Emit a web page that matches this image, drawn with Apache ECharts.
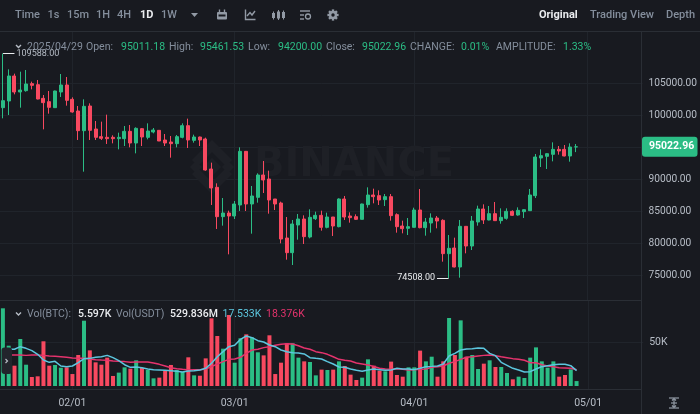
<!DOCTYPE html>
<html>
<head>
<meta charset="utf-8">
<title>BTC/USDT 1D</title>
<style>html,body{margin:0;padding:0;background:#181a20;overflow:hidden}#chart{width:700px;height:414px}</style>
<script src="https://cdn.jsdelivr.net/npm/echarts@6/dist/echarts.min.js"></script>
</head>
<body>
<div id="chart"></div>
<script>
// Daily sessions, with the empty days that run on to the right of the last candle.
const dates = [
'01/20','01/21','01/22','01/23','01/24','01/25','01/26','01/27','01/28','01/29','01/30','01/31',
'02/01','02/02','02/03','02/04','02/05','02/06','02/07','02/08','02/09','02/10','02/11','02/12','02/13','02/14','02/15','02/16','02/17','02/18','02/19','02/20','02/21','02/22','02/23','02/24','02/25','02/26','02/27','02/28',
'03/01','03/02','03/03','03/04','03/05','03/06','03/07','03/08','03/09','03/10','03/11','03/12','03/13','03/14','03/15','03/16','03/17','03/18','03/19','03/20','03/21','03/22','03/23','03/24','03/25','03/26','03/27','03/28','03/29','03/30','03/31',
'04/01','04/02','04/03','04/04','04/05','04/06','04/07','04/08','04/09','04/10','04/11','04/12','04/13','04/14','04/15','04/16','04/17','04/18','04/19','04/20','04/21','04/22','04/23','04/24','04/25','04/26','04/27','04/28','04/29','04/30',
'05/01','05/02','05/03','05/04','05/05','05/06','05/07','05/08','05/09','05/10'];

const opens = [101146,102188,106094,103594,103802,104896,104740,102604,102083,101146,103594,104688,102448,100625,97552,101406,97813,96615,96511,96511,96302,96302,97448,95625,97865,96511,97344,
97604,96094,95781,95521,96510,98333,96042,96562,96250,91562,88698,84114,84687,84219,85938,94323,86094,87135,90625,90000,86875,86250,80781,78490,82813,83750,
80938,83802,84323,82448,84062,82552,86875,84219,84115,83698,85989,87500,87396,86771,87240,84427,82656,82291,82448,85156,82396,83125,83906,83542,78333,
79219,76250,82604,79531,83281,85312,83594,84583,83490,83854,84948,84375,84896,85052,87396,93281,93542,93854,94635,94635,93594,95011.18];
const closes = [102240,106094,103594,103906,104844,104635,102500,101927,101198,103750,104688,102292,100469,97552,101354,97604,96511,96354,96302,96302,96511,97448,95625,97917,96563,97500,97656,
95937,95625,95521,96615,98333,96094,96562,96094,91406,88594,84114,84687,84219,86094,94323,86094,87344,90625,89844,86719,86094,80625,78490,82969,83750,80990,
84010,84323,82448,84062,82656,86875,84062,83958,83698,86094,87500,87240,86719,87240,84271,82552,82239,82552,85156,82396,83281,83906,83437,78333,79166,
76250,82604,79531,83438,85312,83594,84583,83490,84010,84948,84323,85104,85208,87500,93437,93646,93958,94635,94375,93594,94999,95022.96];
const lows = [99480,100000,103229,101146,103646,104011,102448,97761,100209,101094,102813,101459,100365,96094,91146,96094,96094,96094,95469,95573,94636,95156,94948,94011,95156,96198,97136,
95937,95156,93333,94948,96354,94844,95677,95156,91302,85938,82188,82708,78229,83750,85000,85000,81458,86302,87812,84583,85156,79948,77396,76562,80521,79844,
80729,83594,81927,82292,81094,82448,83594,83177,83594,83698,85521,86198,85937,85781,83490,81615,81510,81250,82448,82291,81146,81615,82292,77083,74508,
76198,74583,78385,78906,82708,82969,83542,83438,83021,83646,84219,84271,83906,85000,87031,91875,91562,92760,93802,93542,92708,94200];
const highs = [109588,107136,106459,106771,107032,105208,105469,103125,103750,103802,106406,105938,102761,101406,102448,101823,99063,98959,100052,96823,97240,98281,98438,98073,97969,98698,97969,
97656,97031,96719,96875,98698,99427,96927,96615,96458,92552,89323,87031,85052,86563,94948,94375,88906,90885,92812,91302,86875,86458,84062,83594,84531,84323,
85260,84896,85052,84739,84062,86979,87344,84792,84479,86146,88698,88489,88229,87656,87656,84635,83489,83906,85521,88437,83906,84635,84219,83698,81250,
80833,83594,82604,84219,85833,86042,85781,86406,85417,85417,85104,85573,85260,88438,93906,94635,94010,95729,95156,95312,95573,95461.53];

// Volume per session, in thousands of BTC.
const volumes = [88.3,45.8,23.1,53.4,24.2,10.2,11.0,50.8,23.1,23.9,20.8,21.2,13.6,35.2,74.2,40.5,26.9,24.2,32.2,11.4,15.2,21.2,19.7,29.2,20.5,18.2,8.7,9.5,17.4,23.9,18.2,15.9,32.6,12.1,11.7,
31.4,76.9,56.8,42.4,80.7,26.5,54.2,58.7,55.3,38.3,34.8,57.6,13.6,26.5,48.5,48.5,32.2,28.0,27.3,12.1,18.6,18.2,18.6,28.0,22.7,12.9,6.8,9.5,30.3,23.1,17.4,16.7,27.7,12.5,
10.6,21.2,21.2,40.2,28.0,33.3,10.6,28.0,77.3,35.2,74.6,33.3,35.2,19.3,25.4,29.2,21.6,21.6,14.8,7.6,10.6,9.1,32.2,43.9,28.0,20.8,28.0,10.6,12.5,18.9,5.597];
const volFast = [40.9,41.7,41.7,44.7,42.8,40.2,36.0,29.5,26.9,28.0,22.7,22.0,22.7,26.5,31.1,31.4,32.6,33.3,34.8,32.2,28.8,24.2,21.2,21.6,20.8,19.3,18.6,18.2,17.8,17.4,16.7,15.9,17.0,17.4,18.2,
20.1,25.8,33.3,39.0,44.7,46.2,53.0,56.8,54.9,51.5,50.0,46.6,44.7,40.9,39.0,37.9,37.5,36.4,32.2,31.4,30.7,27.7,25.0,21.6,21.2,19.3,17.8,16.7,18.2,19.3,18.6,17.8,18.2,20.1,
19.3,19.3,18.6,20.1,22.0,22.3,22.7,25.0,34.1,37.1,40.9,42.0,42.4,43.2,42.8,37.1,34.5,26.9,23.5,20.1,18.2,15.9,16.3,19.3,22.0,23.1,24.2,24.6,24.6,23.1,17.533];
const volSlow = [35.2,35.2,35.2,35.2,34.8,35.2,35.2,34.8,34.1,33.7,33.3,32.6,31.8,31.4,31.4,30.7,29.9,29.5,29.2,28.4,28.0,27.7,26.9,27.3,27.3,27.3,26.1,24.6,22.7,20.8,19.7,18.9,18.2,18.6,18.6,
19.3,22.0,25.0,27.7,30.3,30.7,32.6,37.1,40.9,41.7,43.6,44.7,46.2,47.4,48.1,47.7,45.8,43.2,41.7,39.0,37.9,36.0,33.3,30.3,29.2,28.4,26.1,25.0,23.9,22.3,20.1,19.3,18.9,19.7,
18.9,18.2,18.6,18.9,19.3,21.2,22.0,22.7,25.8,27.7,30.3,32.6,33.3,34.1,34.8,35.2,34.5,33.3,32.2,31.1,30.3,29.2,26.5,26.5,24.2,22.7,22.0,20.8,20.5,20.1,18.376];

const priceTicks = [75000,80000,85000,90000,95000,100000,105000];
const volumeTicks = [50];
const highLabel = '109588.00';
const lowLabel = '74508.00';

const BG = '#181a20', UP = '#2bbd85', DOWN = '#f84960', GRID = '#20242b', EDGE = '#2a2e35';
const CYAN = '#5cc6de', PINK = '#e5336d', MUTED = '#848e9c', SOFT = '#b7bdc6', WHITE = '#eaecef';
const UI = 'Roboto, sans-serif', NUM = 'Roboto, sans-serif';
const MARK = '#1e2026';

const candles = opens.map((o, i) => [o, closes[i], lows[i], highs[i]]);
const chart = echarts.init(document.getElementById('chart'), null, {renderer: 'canvas'});

// Text and simple shape helpers for the toolbar and the legend rows.
const label = (x, y, text, fill, size = 10.5, weight = 400, font = UI, z = 50) =>
  ({type: 'text', z, silent: true, style: {x, y, text, fill, font: `${weight} ${size}px ${font}`, textVerticalAlign: 'middle'}});
const line = (x1, y1, x2, y2, stroke, lineWidth = 1, z = 40) =>
  ({type: 'line', z, silent: true, shape: {x1, y1, x2, y2}, style: {stroke, lineWidth}});
const box = (x, y, width, height, fill, r = 0, z = 50) =>
  ({type: 'rect', z, silent: true, shape: {x, y, width, height, r}, style: {fill}});
const poly = (points, stroke, lineWidth = 1.4, z = 50) =>
  ({type: 'polyline', z, silent: true, shape: {points}, style: {stroke, lineWidth, fill: 'none'}});
const shape = (points, fill, z = 0) =>
  ({type: 'polygon', z, silent: true, shape: {points}, style: {fill}});

const ICON = '#929aa5';
const tools = [
  ['Time', 15], ['1s', 47.5], ['15m', 67], ['1H', 96], ['4H', 117], ['1W', 161]
];
const views = [['Trading View', 590], ['Depth', 666]];

const stats = [
  ['2025/04/29', 27, MUTED], ['Open:', 86, MUTED], ['95011.18', 121, UP], ['High:', 169, MUTED], ['95461.53', 200, UP],
  ['Low:', 248, MUTED], ['94200.00', 278, UP], ['Close:', 326, MUTED], ['95022.96', 362, UP], ['CHANGE:', 410, MUTED],
  ['0.01%', 461, UP], ['AMPLITUDE:', 496, MUTED], ['1.33%', 563, UP]
];
const volumeLegend = [
  ['Vol(BTC):', 27, MUTED, 400], ['5.597K', 78, WHITE, 500], ['Vol(USDT)', 116, MUTED, 400], ['529.836M', 170, WHITE, 500],
  ['17.533K', 222.5, CYAN, 400], ['18.376K', 266, PINK, 400]
];

const gearTeeth = [0, 45, 90, 135].map(a => {
  const c = Math.cos(a * Math.PI / 180) * 5.6, s = Math.sin(a * Math.PI / 180) * 5.6;
  return line(333 - c, 15 - s, 333 + c, 15 + s, ICON, 2.4, 50);
});

const chrome = [
  // Panel rules
  line(0, 31.5, 700, 31.5, EDGE), line(0, 300.5, 641.5, 300.5, EDGE), line(0, 389.5, 641.5, 389.5, EDGE), line(641.5, 32, 641.5, 414, EDGE),
  // Watermark behind the candles
  shape([[212,158],[221,167],[212,176],[203,167]], MARK),
  shape([[190,167],[196,161],[202,167],[196,173]], MARK),
  shape([[222,167],[228,161],[234,167],[228,173]], MARK),
  shape([[212,140],[232,160],[226,166],[212,152],[198,166],[192,160]], MARK),
  shape([[212,194],[232,174],[226,168],[212,182],[198,168],[192,174]], MARK),
  {type: 'text', z: 0, silent: true, style: {x: 254, y: 166, text: 'BINANCE', fill: MARK, font: '700 40px "DejaVu Sans", sans-serif', textVerticalAlign: 'middle'}},
  // Toolbar
  ...tools.map(([t, x]) => label(x, 15, t, MUTED, 11, 500)),
  label(140, 15, '1D', WHITE, 11, 700),
  shape([[191,13],[198,13],[194.5,17]], ICON, 50),
  // Calendar icon
  box(217, 12, 10, 7.5, ICON, 1), box(218.5, 14.5, 7, 2, BG, 0, 51), line(219.5, 9.5, 219.5, 12, ICON, 1.4, 50), line(224.5, 9.5, 224.5, 12, ICON, 1.4, 50),
  // Indicator icon
  poly([[245.5,9.5],[245.5,19.5],[255.5,19.5]], ICON), poly([[247,16],[250,12.5],[252,15],[255,11]], ICON),
  // Candle style icon
  box(272, 13, 3, 5, ICON), line(273.5, 11.5, 273.5, 19.5, ICON), box(277, 11.5, 3, 7, ICON), line(278.5, 10, 278.5, 20, ICON), box(282, 12, 3, 6, ICON), line(283.5, 10.5, 283.5, 19.5, ICON),
  // Layout icon
  line(300, 11, 310, 11, ICON, 1.4), line(300, 15, 304, 15, ICON, 1.4), line(300, 19, 304, 19, ICON, 1.4),
  {type: 'circle', z: 50, silent: true, shape: {cx: 308, cy: 16.5, r: 2.5}, style: {stroke: ICON, lineWidth: 1.3, fill: 'none'}},
  // Settings icon
  ...gearTeeth,
  {type: 'circle', z: 51, silent: true, shape: {cx: 333, cy: 15, r: 4.2}, style: {fill: ICON}},
  {type: 'circle', z: 52, silent: true, shape: {cx: 333, cy: 15, r: 1.7}, style: {fill: BG}},
  label(539, 15, 'Original', WHITE, 11, 700),
  ...views.map(([t, x]) => label(x, 15, t, MUTED, 11, 500)),
  // Legend rows
  poly([[16,45],[18.5,47.5],[21,45]], SOFT),
  ...stats.map(([t, x, c]) => label(x, 47, t, c, 10.5)),
  poly([[16,312.5],[18.5,315],[21,312.5]], SOFT),
  ...volumeLegend.map(([t, x, c, w]) => label(x, 314, t, c, 10.5, w)),
  // Collapse handle on the volume pane
  box(1.5, 347.5, 10.5, 26.5, '#22252c', 3, 60),
  poly([[5.5,359],[7.5,361],[5.5,363]], SOFT, 1.2, 61),
  // Auto-scale control
  line(669, 398, 679, 398, ICON, 1.2), line(669, 408, 679, 408, ICON, 1.2), line(671, 403, 677, 403, ICON, 1.2), line(674, 399, 674, 407, ICON, 1.2),
  poly([[672,400.5],[674,398.5],[676,400.5]], ICON, 1.2), poly([[672,405.5],[674,407.5],[676,405.5]], ICON, 1.2)
];

const isMonthStart = (_, value) => value.endsWith('/01');
const xBase = {
  type: 'category', data: dates, boundaryGap: true,
  axisLine: {show: false}, axisTick: {show: false},
  splitLine: {show: true, alignWithLabel: true, interval: (i, v) => isMonthStart(i, v), lineStyle: {color: GRID, width: 1}}
};

chart.setOption({
  animation: false,
  backgroundColor: BG,
  grid: [
    {left: -0.6, width: 643.8, top: 32, height: 269},
    {left: -0.6, width: 643.8, top: 301, height: 88}
  ],
  xAxis: [
    {...xBase, gridIndex: 0, axisLabel: {show: false}},
    {...xBase, gridIndex: 1, axisLabel: {show: true, interval: (i, v) => isMonthStart(i, v), formatter: v => v, color: SOFT, fontFamily: NUM, fontSize: 10.5, margin: 9}}
  ],
  yAxis: [
    {type: 'value', gridIndex: 0, position: 'right', scale: true, min: 70937.5, max: 112968.75,
      axisLine: {show: false}, axisTick: {show: false, customValues: priceTicks},
      axisLabel: {customValues: priceTicks, formatter: v => v.toFixed(2), color: SOFT, fontFamily: NUM, fontSize: 10.2, margin: 6, align: 'left'},
      splitLine: {show: true, lineStyle: {color: GRID, width: 1}}},
    {type: 'value', gridIndex: 1, position: 'right', min: -3.41, max: 96.59,
      axisLine: {show: false}, axisTick: {show: false, customValues: volumeTicks},
      axisLabel: {customValues: volumeTicks, formatter: v => v + 'K', color: SOFT, fontFamily: NUM, fontSize: 10.5, margin: 6, align: 'left'},
      splitLine: {show: true, lineStyle: {color: GRID, width: 1}}}
  ],
  graphic: {elements: chrome},
  series: [
    {
      type: 'candlestick', xAxisIndex: 0, yAxisIndex: 0, data: candles, barWidth: 3.5, z: 5,
      itemStyle: {color: UP, color0: DOWN, borderColor: UP, borderColor0: DOWN, borderWidth: 1},
      markPoint: {
        silent: true, symbol: 'circle', symbolSize: 0, animation: false,
        data: [
          {coord: [2, highs[0]], value: highLabel, label: {position: 'right', distance: 2, formatter: highLabel, color: SOFT, fontFamily: NUM, fontSize: 9}},
          {coord: [75, lows[77]], value: lowLabel, label: {position: 'left', distance: 2, formatter: lowLabel, color: WHITE, fontFamily: NUM, fontSize: 9}}
        ]
      },
      markLine: {
        silent: true, symbol: 'none', animation: false, label: {show: false},
        lineStyle: {color: WHITE, width: 1, type: 'solid', opacity: 1},
        data: [
          [{coord: [0, highs[0]]}, {coord: [2, highs[0]]}],
          [{coord: [75, lows[77]]}, {coord: [77, lows[77]]}]
        ]
      }
    },
    {
      type: 'bar', xAxisIndex: 1, yAxisIndex: 1, data: volumes, barWidth: 4, z: 3,
      itemStyle: {color: p => closes[p.dataIndex] >= opens[p.dataIndex] ? UP : DOWN}
    },
    {type: 'line', xAxisIndex: 1, yAxisIndex: 1, data: volSlow, showSymbol: false, z: 4, lineStyle: {color: PINK, width: 1.5}},
    {type: 'line', xAxisIndex: 1, yAxisIndex: 1, data: volFast, showSymbol: false, z: 5, lineStyle: {color: CYAN, width: 1.5}}
  ]
});

// The last-price tag sits on the price scale at the close of the newest session.
const lastClose = closes[closes.length - 1];
const tagY = chart.convertToPixel({yAxisIndex: 0}, lastClose);
chart.setOption({graphic: {elements: [
  ...chrome,
  box(642, tagY - 10, 55.5, 20, UP, 3, 70),
  label(649, tagY, lastClose.toFixed(2), '#ffffff', 10.5, 700, NUM, 71)
]}}, {replaceMerge: ['graphic']});
</script>
</body>
</html>
